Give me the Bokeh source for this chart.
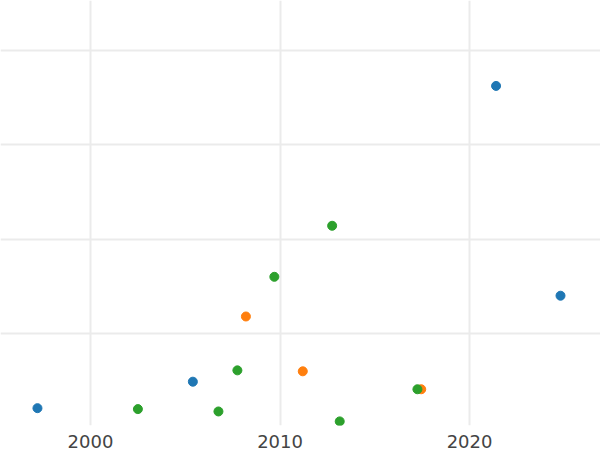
from bokeh.plotting import figure
from bokeh.models import FixedTicker, Range1d
from bokeh.embed import file_html
from bokeh.resources import INLINE

# Data (x = year, y = arbitrary value)
blue_x = [1997.2, 2005.4, 2021.4, 2024.8]
blue_y = [2.1, 4.9, 36.2, 14.0]
orange_x = [2008.2, 2011.2, 2017.45]
orange_y = [11.8, 6.0, 4.1]
green_x = [2002.5, 2006.75, 2007.75, 2009.7, 2012.75, 2013.15, 2017.25]
green_y = [2.0, 1.75, 6.1, 16.0, 21.4, 0.7, 4.1]
x_ticks = [2000, 2010, 2020]
y_grid = [0, 10, 20, 30, 40]

p = figure(frame_width=600, frame_height=425, output_backend="svg", toolbar_location=None,
           x_range=Range1d(1995.25, 2026.91), y_range=Range1d(0.265, 45.24),
           min_border_left=0, min_border_right=0, min_border_top=0, min_border_bottom=0)
p.outline_line_color = None
p.background_fill_color = "white"
p.border_fill_color = "white"

p.yaxis.visible = False
p.yaxis.ticker = FixedTicker(ticks=y_grid)
p.xaxis.ticker = FixedTicker(ticks=x_ticks)
p.xaxis.axis_line_color = None
p.xaxis.major_tick_line_color = None
p.xaxis.minor_tick_line_color = None
p.xaxis.major_label_text_font_size = "18px"
p.xaxis.major_label_text_color = "#444444"
p.xaxis.major_label_text_font = "DejaVu Sans"
p.xaxis.major_label_standoff = 3

p.xgrid.grid_line_color = "#ebebeb"
p.ygrid.grid_line_color = "#ebebeb"
p.xgrid.grid_line_width = 2
p.ygrid.grid_line_width = 2

p.scatter(blue_x, blue_y, size=9, color="#1f77b4")
p.scatter(orange_x, orange_y, size=9, color="#ff7f0e")
p.scatter(green_x, green_y, size=9, color="#2ca02c")

open("out.html", "w").write(file_html(p, INLINE))
